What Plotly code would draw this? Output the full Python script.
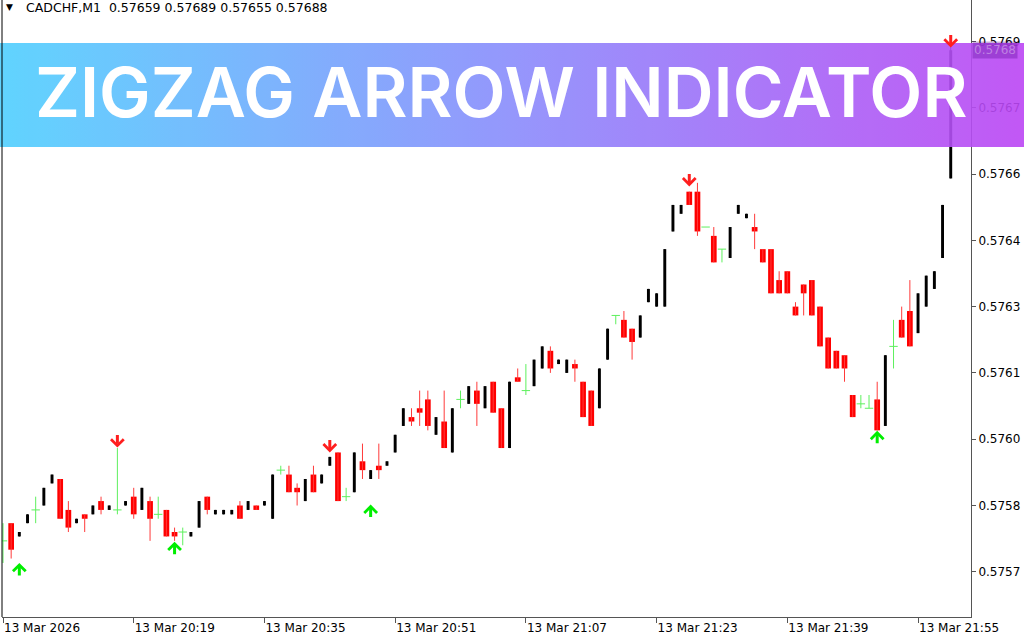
import base64
import plotly.graph_objects as go

# ---- data (CADCHF, M1, 13 Mar 2026 20:03 .. 21:59) ----
open_ = [0.57577,0.57581,0.57578,0.57581,0.57584,0.57585,0.57590,0.57591,0.57584,0.57581,
         0.57583,0.57583,0.57586,0.57584,0.57584,0.57585,0.57587,0.57584,0.57586,0.57583,
         0.57584,0.57579,0.57579,0.57578,0.57580,0.57587,0.57583,0.57583,0.57583,0.57585,
         0.57584,0.57585,0.57585,0.57582,0.57593,0.57592,0.57589,0.57586,0.57592,0.57590,
         0.57594,0.57597,0.57587,0.57588,0.57595,0.57591,0.57594,0.57594,0.57597,0.57603,
         0.57605,0.57607,0.57609,0.57601,0.57604,0.57597,0.57609,0.57608,0.57611,0.57607,
         0.57613,0.57607,0.57598,0.57614,0.57611,0.57612,0.57616,0.57620,0.57617,0.57615,
         0.57617,0.57613,0.57611,0.57607,0.57618,0.57628,0.57627,0.57625,0.57623,0.57631,
         0.57630,0.57630,0.57647,0.57651,0.57656,0.57656,0.57648,0.57646,0.57643,0.57641,
         0.57651,0.57650,0.57648,0.57643,0.57643,0.57636,0.57638,0.57630,0.57635,0.57636,
         0.57630,0.57623,0.57620,0.57619,0.57610,0.57608,0.57607,0.57609,0.57603,0.57621,
         0.57627,0.57629,0.57624,0.57630,0.57634,0.57641,0.57659]
high = [0.57581,0.57581,0.57579,0.57583,0.57587,0.57589,0.57592,0.57591,0.57586,0.57582,
        0.57583,0.57585,0.57587,0.57585,0.57598,0.57586,0.57589,0.57589,0.57587,0.57587,
        0.57584,0.57580,0.57580,0.57579,0.57586,0.57587,0.57584,0.57584,0.57584,0.57586,
        0.57586,0.57585,0.57586,0.57592,0.57594,0.57594,0.57590,0.57591,0.57594,0.57592,
        0.57596,0.57597,0.57589,0.57597,0.57599,0.57593,0.57599,0.57595,0.57601,0.57607,
        0.57607,0.57611,0.57611,0.57605,0.57611,0.57607,0.57611,0.57612,0.57613,0.57612,
        0.57613,0.57607,0.57613,0.57616,0.57617,0.57618,0.57621,0.57621,0.57618,0.57618,
        0.57618,0.57613,0.57611,0.57616,0.57625,0.57628,0.57629,0.57625,0.57628,0.57634,
        0.57633,0.57643,0.57653,0.57653,0.57656,0.57658,0.57648,0.57648,0.57643,0.57648,
        0.57653,0.57651,0.57651,0.57643,0.57643,0.57638,0.57638,0.57631,0.57635,0.57636,
        0.57630,0.57623,0.57620,0.57619,0.57610,0.57610,0.57610,0.57613,0.57619,0.57627,
        0.57630,0.57636,0.57633,0.57637,0.57638,0.57653,0.57689]
low = [0.57572,0.57573,0.57578,0.57581,0.57581,0.57585,0.57590,0.57582,0.57579,0.57581,
       0.57579,0.57583,0.57583,0.57584,0.57583,0.57585,0.57582,0.57584,0.57577,0.57582,
       0.57578,0.57577,0.57576,0.57578,0.57580,0.57583,0.57583,0.57583,0.57583,0.57582,
       0.57584,0.57584,0.57585,0.57582,0.57592,0.57588,0.57585,0.57586,0.57588,0.57590,
       0.57594,0.57586,0.57586,0.57588,0.57591,0.57591,0.57591,0.57594,0.57597,0.57603,
       0.57603,0.57603,0.57602,0.57601,0.57598,0.57597,0.57607,0.57608,0.57603,0.57607,
       0.57606,0.57598,0.57598,0.57613,0.57610,0.57612,0.57616,0.57615,0.57617,0.57615,
       0.57613,0.57605,0.57603,0.57607,0.57618,0.57626,0.57623,0.57618,0.57623,0.57631,
       0.57630,0.57630,0.57647,0.57651,0.57653,0.57646,0.57648,0.57640,0.57640,0.57641,
       0.57651,0.57650,0.57643,0.57640,0.57633,0.57633,0.57633,0.57628,0.57628,0.57628,
       0.57621,0.57616,0.57616,0.57613,0.57605,0.57607,0.57607,0.57602,0.57603,0.57616,
       0.57623,0.57621,0.57624,0.57630,0.57634,0.57641,0.57659]
close = [0.57577,0.57575,0.57579,0.57583,0.57584,0.57589,0.57592,0.57582,0.57580,0.57582,
         0.57582,0.57585,0.57584,0.57585,0.57584,0.57586,0.57583,0.57589,0.57582,0.57583,
         0.57578,0.57578,0.57579,0.57579,0.57586,0.57584,0.57584,0.57584,0.57584,0.57582,
         0.57586,0.57584,0.57586,0.57592,0.57593,0.57588,0.57588,0.57591,0.57588,0.57592,
         0.57596,0.57586,0.57587,0.57597,0.57593,0.57593,0.57593,0.57595,0.57601,0.57607,
         0.57604,0.57606,0.57603,0.57605,0.57598,0.57607,0.57609,0.57612,0.57608,0.57612,
         0.57606,0.57598,0.57613,0.57613,0.57611,0.57618,0.57621,0.57616,0.57618,0.57618,
         0.57616,0.57605,0.57603,0.57616,0.57625,0.57628,0.57623,0.57622,0.57628,0.57634,
         0.57633,0.57643,0.57653,0.57653,0.57653,0.57647,0.57648,0.57640,0.57643,0.57648,
         0.57653,0.57651,0.57647,0.57640,0.57633,0.57633,0.57633,0.57628,0.57633,0.57628,
         0.57621,0.57616,0.57616,0.57616,0.57605,0.57608,0.57607,0.57602,0.57619,0.57621,
         0.57623,0.57621,0.57633,0.57637,0.57638,0.57653,0.57688]

# zigzag arrows: bar index and tip price
up_idx = [2, 21, 45, 107]
up_tip = [0.575720, 0.575768, 0.575852, 0.576019]
dn_idx = [14, 40, 84, 116]
dn_tip = [0.575981, 0.575970, 0.576572, 0.576886]

# axis labels
time_tick_idx = [0, 16, 32, 48, 64, 80, 96, 112]
time_tick_text = ["13 Mar 2026", "13 Mar 20:19", "13 Mar 20:35", "13 Mar 20:51",
                  "13 Mar 21:07", "13 Mar 21:23", "13 Mar 21:39", "13 Mar 21:55"]
price_ticks = [0.57570, 0.57585, 0.57600, 0.57615, 0.57630, 0.57645, 0.57660, 0.57675, 0.57690]
price_tick_text = ["0.5757", "0.5758", "0.5760", "0.5761", "0.5763", "0.5764", "0.5766", "0.5767", "0.5769"]

header = "CADCHF,M1\u00a0\u00a00.57659 0.57689 0.57655 0.57688"
banner_title = "ZIGZAG ARROW INDICATOR"
last_price_label = "0.5768"

# ---- styling ----
BULL = "#000000"
BEAR = "#ff0000"
BEAR_WICK = "#ff3a3a"
DOJI = "#5ef05e"
UP_ARROW = "#00ee00"
DN_ARROW = "#ff1e1e"
FONT = "DejaVu Sans"

W, H = 1024, 640
ML, MR, MT, MB = 2, 53, 0, 23
PW, PH = W - ML - MR, H - MT - MB

idx = list(range(len(open_)))
bear = [i for i in idx if close[i] < open_[i]]
bull = [i for i in idx if close[i] > open_[i]]
doji = [i for i in idx if close[i] == open_[i]]


def wick_xy(ids):
    xs, ys = [], []
    for i in ids:
        xs += [i, i, None]
        ys += [low[i], high[i], None]
    return xs, ys


fig = go.Figure()

for ids, col in ((bear, BEAR_WICK), (bull, BULL), (doji, DOJI)):
    xs, ys = wick_xy(ids)
    fig.add_trace(go.Scatter(x=xs, y=ys, mode="lines", line=dict(color=col, width=1),
                             hoverinfo="skip", showlegend=False))

fig.add_trace(go.Bar(x=bear, y=[open_[i] - close[i] for i in bear], base=[close[i] for i in bear],
                     width=0.7, marker=dict(color=BEAR, line=dict(width=0)), showlegend=False))
fig.add_trace(go.Bar(x=bull, y=[close[i] - open_[i] for i in bull], base=[open_[i] for i in bull],
                     width=0.36, marker=dict(color=BULL, line=dict(width=0)), showlegend=False))
fig.add_trace(go.Scatter(x=doji, y=[open_[i] for i in doji], mode="markers",
                         marker=dict(symbol="line-ew", size=6, line=dict(color=DOJI, width=1)),
                         showlegend=False, hoverinfo="skip"))

ann = []
for i, p in zip(up_idx, up_tip):
    ann.append(dict(x=i, y=p, xref="x", yref="y", text="", showarrow=True, ax=0, ay=14,
                    arrowhead=4, arrowsize=0.82, arrowwidth=3, arrowcolor=UP_ARROW, standoff=0))
for i, p in zip(dn_idx, dn_tip):
    ann.append(dict(x=i, y=p, xref="x", yref="y", text="", showarrow=True, ax=0, ay=-14,
                    arrowhead=4, arrowsize=0.82, arrowwidth=3, arrowcolor=DN_ARROW, standoff=0))


def px_x(px):
    return (px - ML) / PW


def px_y(py):
    return (H - MB - py) / PH


# header
ann.append(dict(x=px_x(4), y=px_y(7), xref="paper", yref="paper", text="▼", showarrow=False,
                xanchor="left", yanchor="middle", font=dict(family=FONT, size=9, color="#000")))
ann.append(dict(x=px_x(24), y=px_y(7), xref="paper", yref="paper", text=header, showarrow=False,
                xanchor="left", yanchor="middle", font=dict(family=FONT, size=12.5, color="#000")))
# current price label (seen through the banner)
ann.append(dict(x=1.0, y=close[-1], xref="paper", yref="y", text=last_price_label, showarrow=False,
                xanchor="left", yanchor="middle", xshift=1, bgcolor="rgba(80,0,140,0.30)",
                borderpad=1, font=dict(family=FONT, size=12, color="rgba(255,255,255,0.35)")))
# banner title
ann.append(dict(x=px_x(501), y=px_y(92), xref="paper", yref="paper", text=banner_title,
                showarrow=False, xanchor="center", yanchor="middle",
                font=dict(family="Inter", size=69, color="#ffffff", weight=600)))

svg = ('<svg xmlns="http://www.w3.org/2000/svg" width="1024" height="104" viewBox="0 0 1024 104" '
       'preserveAspectRatio="none"><defs><linearGradient id="g" x1="0" y1="0" x2="1" y2="0">'
       '<stop offset="0" stop-color="#50d0fe"/><stop offset="0.5" stop-color="#8a8cfc"/>'
       '<stop offset="1" stop-color="#bc46f4"/></linearGradient></defs>'
       '<rect width="1024" height="104" fill="url(#g)"/></svg>')
src = "data:image/svg+xml;base64," + base64.b64encode(svg.encode()).decode()

x_left = -1 / 8.17
x_right = x_left + PW / 8.17
y_px_per_unit = 4.42 / 0.00001
y_top = 0.57570 + 571.8 / y_px_per_unit
y_bot = y_top - PH / y_px_per_unit

fig.update_layout(
    width=W, height=H,
    margin=dict(l=ML, r=MR, t=MT, b=MB, pad=0),
    paper_bgcolor="white", plot_bgcolor="white",
    barmode="overlay", hovermode=False, showlegend=False,
    annotations=ann,
    images=[dict(source=src, xref="paper", yref="paper", x=px_x(0), y=px_y(43),
                 sizex=W / PW, sizey=104 / PH, xanchor="left", yanchor="top",
                 sizing="stretch", layer="above", opacity=0.9)],
    shapes=[dict(type="line", xref="paper", yref="paper", x0=0, x1=0, y0=0, y1=1,
                 line=dict(color="#000", width=1))],
    xaxis=dict(range=[x_left, x_right], showgrid=False, zeroline=False, showline=True,
               linecolor="#555", linewidth=1, ticks="outside", ticklen=5, tickcolor="#555",
               tickvals=time_tick_idx, ticktext=time_tick_text, ticklabelposition="outside right",
               tickfont=dict(family=FONT, size=12, color="#000"), fixedrange=True),
    yaxis=dict(range=[y_bot, y_top], side="right", showgrid=False, zeroline=False, showline=True,
               linecolor="#555", linewidth=1, ticks="outside", ticklen=4, tickcolor="#555",
               tickvals=price_ticks, ticktext=price_tick_text,
               tickfont=dict(family=FONT, size=12, color="#000"), fixedrange=True),
)

fig.write_html("out.html", config={"displayModeBar": False},
               post_script="document.body.style.margin='0';document.body.style.overflow='hidden';")
